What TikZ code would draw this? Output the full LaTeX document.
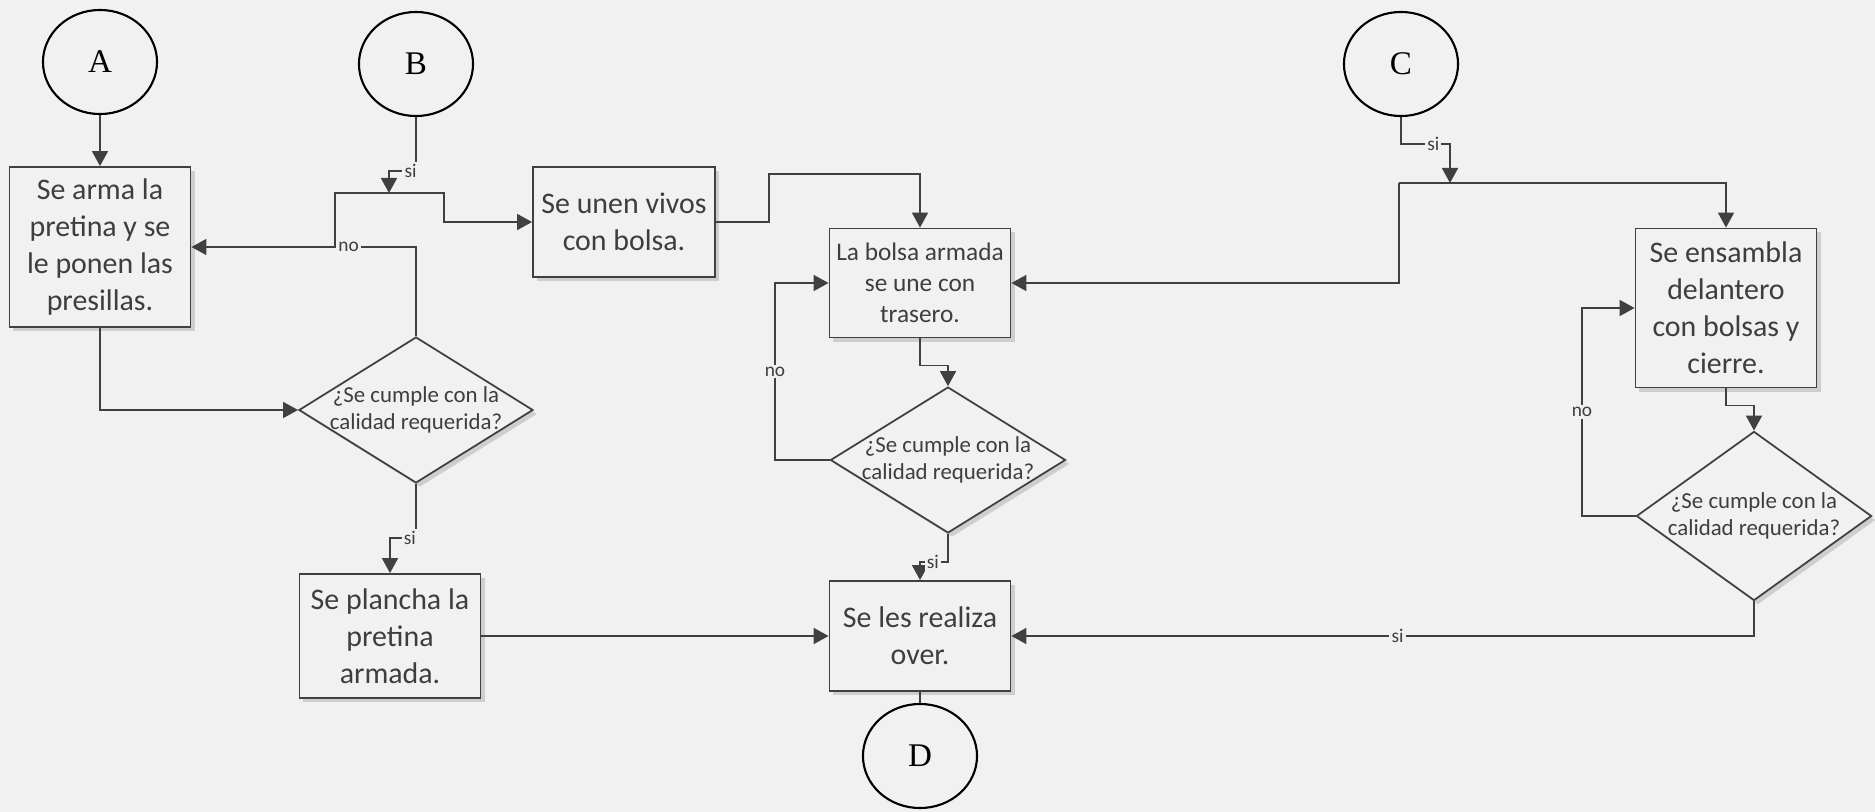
\documentclass[tikz,border=0pt]{standalone}
\usepackage{fontspec}
\setmainfont{Carlito}
\newfontfamily\circfont{Liberation Serif}
\usetikzlibrary{shapes.geometric, arrows.meta, shadows}

\definecolor{bgcol}{RGB}{241,241,241}
\definecolor{linecol}{RGB}{64,64,64}
\definecolor{txtcol}{RGB}{62,62,62}

\begin{document}
\begin{tikzpicture}[x = 0.01cm, y = -0.01cm,
  letter/.style = {draw, ellipse, line width = 0.6pt, minimum width = 1.14cm, minimum height = 1.04cm, inner sep = 0pt, font = \circfont\fontsize{9.4}{11}\selectfont},
  box/.style = {draw = linecol, fill = bgcol, line width = 0.5pt, align = center, text = txtcol, inner sep = 0pt, font = \fontsize{8.5}{10.5}\selectfont, drop shadow = {shadow xshift = 0.04cm, shadow yshift = -0.04cm, opacity = 0.3}},
  decision/.style = {draw = linecol, fill = bgcol, diamond, aspect = 1.6, line width = 0.5pt, align = center, text = txtcol, inner sep = -0.7pt, font = \fontsize{6.5}{7.6}\selectfont, drop shadow = {shadow xshift = 0.04cm, shadow yshift = -0.04cm, opacity = 0.3}},
  arr/.style = {draw = linecol, line width = 0.5pt, -{Triangle[length = 0.15cm, width = 0.16cm]}},
  lbl/.style = {fill = bgcol, text = txtcol, inner sep = 0.6pt, font = \fontsize{5.5}{6}\selectfont}]
\fill [bgcol] (0,0) rectangle (1875,812);
\useasboundingbox (0,0) rectangle (1875,812);

\node [letter] (v1) at (100,62) {A};
\node [letter] (v2) at (416,64) {B};
\node [letter] (v3) at (1401,64) {C};
\node [letter] (v4) at (920,756) {D};

\node [box, minimum width = 1.81cm, minimum height = 1.60cm] (v5) at (100,247) {Se arma la\\pretina y se\\le ponen las\\presillas.};
\node [decision, minimum width = 2.34cm, minimum height = 1.44cm] (v6) at (416,410) {¿Se cumple con la\\calidad requerida?};
\node [box, minimum width = 1.81cm, minimum height = 1.24cm] (v7) at (390,636) {Se plancha la\\pretina\\armada.};

\node [box, minimum width = 1.82cm, minimum height = 1.10cm] (v8) at (624,222) {Se unen vivos\\con bolsa.};
\node [box, minimum width = 1.81cm, minimum height = 1.09cm, font = \fontsize{7.2}{8.8}\selectfont] (v9) at (920,283) {La bolsa armada\\se une con\\trasero.};
\node [decision, minimum width = 2.35cm, minimum height = 1.44cm] (v10) at (948,460) {¿Se cumple con la\\calidad requerida?};
\node [box, minimum width = 1.81cm, minimum height = 1.10cm] (v11) at (920,636) {Se les realiza\\over.};

\node [box, minimum width = 1.81cm, minimum height = 1.59cm] (v12) at (1726,308) {Se ensambla\\delantero\\con bolsas y\\cierre.};
\node [decision, minimum width = 2.35cm, minimum height = 1.69cm] (v13) at (1754,516) {¿Se cumple con la\\calidad requerida?};

\coordinate (j1) at (389,193);
\coordinate (j4) at (1450,183);
\coordinate (j5) at (1399,183);

\draw [arr] (v1) -- (v5);
\draw [arr] (v5.south) |- (v6.west);
\draw [arr] (v6.north) |- node [lbl, pos = 0.65] {no} coordinate [pos = 0.68] (j2) (v5.east);
\draw [arr] (j2) |- (444,193) |- (v8.west);
\draw [arr] (v2.south) -- ++(0,54) -| node [lbl, pos = 0.1] {si} (j1);
\draw [arr] (v6.south) -- ++(0,54) -| node [lbl, pos = 0.12] {si} (v7.north);
\draw [arr] (v7.east) -- (v11.west);

\draw [arr] (v8.east) -| (769,174) -| (v9.north);
\draw [arr] (v9.south) -- ++(0,27) -| (v10.north);
\draw [arr] (v10.west) -| node [lbl, pos = 0.75] {no} (775,283) -- (v9.west);
\draw [arr] (v10.south) -- ++(0,28) -| node [lbl, pos = 0.27] {si} (v11.north);
\draw [draw = linecol, line width = 0.5pt] (v11.south) -- (v4);

\draw [arr] (v3.south) -- ++(0,27) -| node [lbl, pos = 0.33] {si} (j4);
\draw [arr] (j5) -| (v12.north);
\draw [arr] (j5) |- (v9.east);
\draw [arr] (v12.south) -- ++(0,17) -| (v13.north);
\draw [arr] (v13.west) -| node [lbl, pos = 0.75] {no} (1582,308) -- (v12.west);
\draw [arr] (v13.south) |- node [lbl, pos = 0.74] {si} (v11.east);
\end{tikzpicture}
\end{document}
